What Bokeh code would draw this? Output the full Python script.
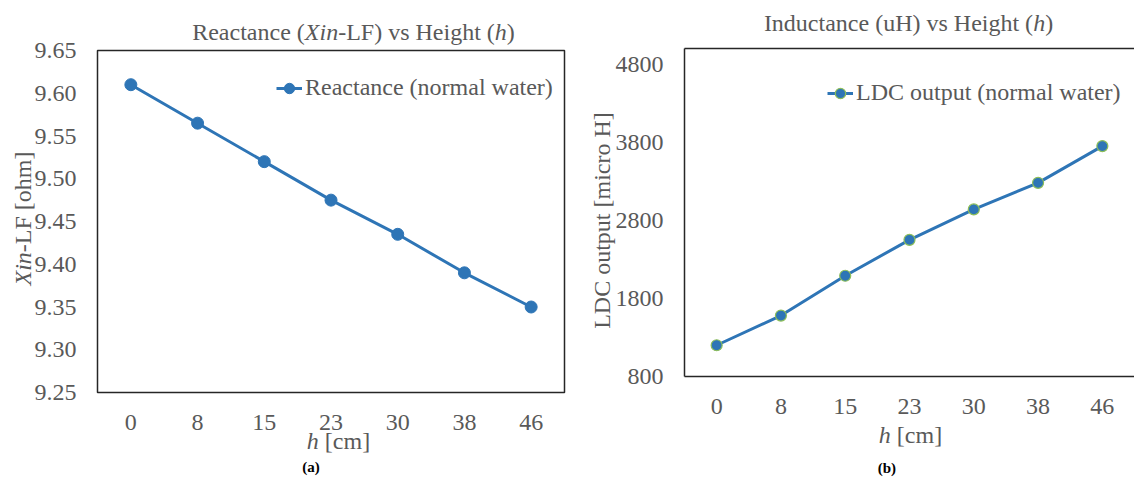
import math
from jinja2 import Template
from bokeh.plotting import figure
from bokeh.models import (Range1d, FactorRange, FixedTicker, Label, Legend,
                          LegendItem, NumeralTickFormatter, CategoricalAxis)
from bokeh.embed import file_html
from bokeh.resources import INLINE

# ---------------- data ----------------
heights = ["0", "8", "15", "23", "30", "38", "46"]
reactance = [9.61, 9.565, 9.52, 9.475, 9.435, 9.39, 9.35]
ldc_output = [1200, 1580, 2090, 2550, 2940, 3280, 3750]
reactance_ticks = [9.25, 9.30, 9.35, 9.40, 9.45, 9.50, 9.55, 9.60, 9.65]
ldc_ticks = [800, 1800, 2800, 3800, 4800]

# ---------------- style ----------------
FONT = "Liberation Serif"
GREY = "#595959"
FRAME = "#262626"
BLUE = "#2E75B6"
GREEN = "#8DBE5A"
W, H = 1134, 477

TR = {' ': 250, '(': 333, ')': 333, '-': 333, '[': 333, ']': 333, '.': 250,
      'R': 667, 'e': 444, 'a': 444, 'c': 444, 't': 278, 'n': 500, 'X': 722,
      'L': 611, 'F': 556, 'v': 500, 's': 389, 'H': 722, 'i': 278, 'g': 500,
      'h': 500, 'u': 500, 'I': 333, 'd': 500, 'o': 500, 'm': 778, 'p': 500,
      'r': 333, 'l': 278, 'w': 722, 'D': 722, 'C': 667, 'b': 500}
TI = {'X': 611, 'i': 278, 'n': 500, 'h': 500}


def seg_width(text, italic, size):
    table = TI if italic else TR
    return sum(table.get(ch, TR.get(ch, 500)) for ch in text) * size / 1000.0


# transparent overlay figure that carries all titles / axis titles
ov = figure(width=W, height=H, x_range=Range1d(0, 1), y_range=Range1d(0, 1),
            x_axis_type=None, y_axis_type=None, title=None,
            output_backend="svg", toolbar_location=None, min_border=0,
            min_border_left=0, min_border_right=0, min_border_top=0,
            min_border_bottom=0, name="overlay")
ov.background_fill_color = None
ov.border_fill_color = None
ov.outline_line_color = None
ov.xgrid.visible = False
ov.ygrid.visible = False


def rich(segs, cx, cy, size, color, angle=0.0, weight=None):
    """Mixed-style text centred on page point (cx, cy)."""
    total = sum(seg_width(t, it, size) for t, it in segs)
    pos = -total / 2.0
    for t, it in segs:
        w = seg_width(t, it, size)
        lead = len(t) - len(t.lstrip(' '))
        txt = t.strip(' ')
        off = pos + seg_width(' ' * lead, False, size)
        if angle == 0:
            sx, sy = cx + off, H - cy
        else:
            sx, sy = cx, H - cy + off
        fs = "italic" if it else (weight or "normal")
        ov.add_layout(Label(x=sx, y=sy, x_units="screen", y_units="screen",
                            text=txt, angle=angle, text_align="left",
                            text_baseline="middle", text_font=FONT,
                            text_font_size=f"{size}px", text_font_style=fs,
                            text_color=color))
        pos += w


def style(p, ticks, fmt):
    p.outline_line_color = FRAME
    p.outline_line_width = 1.5
    p.xgrid.visible = False
    p.ygrid.visible = False
    p.background_fill_color = "white"
    p.border_fill_color = "white"
    for ax in (p.xaxis[0], p.yaxis[0]):
        ax.axis_line_color = None
        ax.major_tick_line_color = None
        ax.minor_tick_line_color = None
        ax.major_tick_in = 0
        ax.major_tick_out = 0
        ax.major_label_text_font = FONT
        ax.major_label_text_font_size = "24px"
        ax.major_label_text_color = GREY
    p.yaxis[0].ticker = FixedTicker(ticks=ticks)
    p.yaxis[0].formatter = NumeralTickFormatter(format=fmt)
    p.yaxis[0].major_label_standoff = 21
    p.xaxis[0].major_label_standoff = 22


def legend(renderers, label, loc):
    return Legend(items=[LegendItem(label=label, renderers=renderers)],
                  location=loc, border_line_color=None,
                  background_fill_alpha=0, padding=0, spacing=0, margin=0,
                  label_text_font=FONT, label_text_font_size="24px",
                  label_text_color=GREY, glyph_width=26, glyph_height=26,
                  label_standoff=3)


# ---------------- left chart ----------------
p1 = figure(width=570, height=H, x_range=FactorRange(*heights),
            y_range=Range1d(9.25, 9.65), output_backend="svg",
            toolbar_location=None, min_border_left=97, min_border_right=6,
            min_border_top=50, min_border_bottom=85, name="left")
style(p1, reactance_ticks, "0.00")
l1 = p1.line(x=heights, y=reactance, line_color=BLUE, line_width=3)
c1 = p1.scatter(x=heights, y=reactance, size=12, marker="circle",
                fill_color=BLUE, line_color=BLUE)
p1.add_layout(legend([l1, c1], "Reactance (normal water)", (179, 291)))
rich([("Reactance (", False), ("Xin", True), ("-LF) vs Height (", False),
      ("h", True), (")", False)], 353, 31, 24, GREY)
rich([("Xin", True), ("-LF [ohm]", False)], 22, 218, 24, GREY, angle=math.pi / 2)
rich([("h", True), (" [cm]", False)], 338, 440, 24, GREY)
rich([("(a)", False)], 310, 466, 15, "black", weight="bold")

# ---------------- right chart (frame runs off the right edge) ----------------
p2 = figure(width=564, height=H, x_range=FactorRange(*heights),
            y_range=Range1d(800, 5000), output_backend="svg",
            toolbar_location=None, min_border_left=114, min_border_right=0,
            min_border_top=48, min_border_bottom=101, name="right")
style(p2, ldc_ticks, "0")
p2.outline_line_color = None
for ax in (p2.xaxis[0], p2.yaxis[0]):
    ax.axis_line_color = FRAME
    ax.axis_line_width = 1.5
top_axis = CategoricalAxis(axis_line_color=FRAME, axis_line_width=1.5,
                           major_tick_line_color=None, minor_tick_line_color=None,
                           major_tick_in=0, major_tick_out=0,
                           major_label_text_font_size="1px",
                           major_label_text_alpha=0, major_label_standoff=0,
                           group_text_alpha=0, subgroup_text_alpha=0)
p2.add_layout(top_axis, "above")
l2 = p2.line(x=heights, y=ldc_output, line_color=BLUE, line_width=3)
c2 = p2.scatter(x=heights, y=ldc_output, size=11, marker="circle",
                fill_color=BLUE, line_color=GREEN, line_width=1.2)
p2.add_layout(legend([l2, c2], "LDC output (normal water)", (143, 270)))
rich([("Inductance (uH) vs Height (", False), ("h", True), (")", False)],
     908, 22, 24, GREY)
rich([("LDC output [micro H]", False)], 601, 220, 24, GREY, angle=math.pi / 2)
rich([("h", True), (" [cm]", False)], 910, 434, 24, GREY)
rich([("(b)", False)], 886, 467, 15, "black", weight="bold")

TEMPLATE = Template("""{% extends base %}
{% block preamble %}<style>html,body{margin:0;padding:0;}</style>{% endblock %}
{% block contents %}
<div style="position:relative;width:1134px;height:477px;">
  <div style="display:flex;flex-direction:row;align-items:flex-start;">
    {{ embed(roots.left) }}
    {{ embed(roots.right) }}
  </div>
  <div style="position:absolute;left:0;top:0;pointer-events:none;">
    {{ embed(roots.overlay) }}
  </div>
</div>
{% endblock %}""")

open("out.html", "w").write(file_html([p1, p2, ov], INLINE, template=TEMPLATE))
